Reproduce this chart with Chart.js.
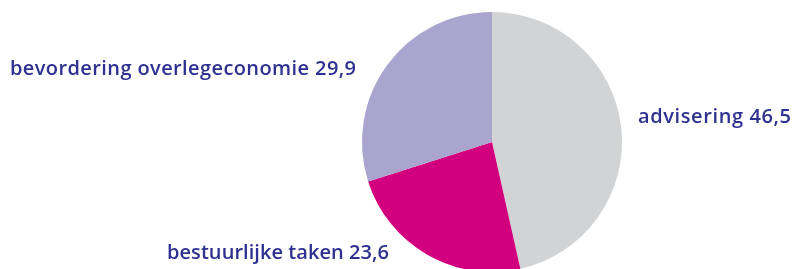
<!DOCTYPE html>
<html>
<head>
<meta charset="utf-8">
<script src="https://cdn.jsdelivr.net/npm/chart.js@4/dist/chart.umd.min.js"></script>
<style>
  html, body { margin: 0; padding: 0; background: #fff; }
  #wrap { width: 793px; height: 269px; }
</style>
</head>
<body>
<div id="wrap"><canvas id="pie" width="793" height="269"></canvas></div>
<script>
// data
var categories = ["advisering", "bestuurlijke taken", "bevordering overlegeconomie"];
var shares = [46.5, 23.6, 29.9];
var sliceColors = ['#d1d3d4', '#d2007f', '#aaa5cf'];

// label placement (text only, not the slices): left x, right x, baseline
var labelPos = [
    {x: 638, r: 791, y: 123},
    {x: 167, r: 389, y: 259},
    {x: 10, r: 356, y: 75}
];

function fmt(v) {
    return v.toFixed(1).replace('.', ',');
}

/* ======= labels next to the pie ======= */
var sideLabels = {
    id: 'sideLabels',
    afterDraw: function(chart) {
        var ctx = chart.ctx;
        ctx.save();
        ctx.fillStyle = '#2e3190';
        ctx.font = '600 20px "Open Sans"';
        ctx.textBaseline = 'alphabetic';
        ctx.textAlign = 'left';
        categories.forEach(function(c, i) {
            var txt = c + ' ' + fmt(shares[i]);
            ctx.letterSpacing = '0px';
            var w = ctx.measureText(txt).width;
            // stretch a bit so the label spans the same width as the original
            var ls = (labelPos[i].r - labelPos[i].x - w) / (txt.length - 1);
            ctx.letterSpacing = Math.max(0, ls).toFixed(2) + 'px';
            ctx.fillText(txt, labelPos[i].x, labelPos[i].y);
        });
        ctx.restore();
    }
};

var ctx = document.getElementById('pie');

var chart = new Chart(ctx, {
    type: 'pie',
    data: {
        labels: categories,
        datasets: [{
            data: shares,
            backgroundColor: sliceColors,
            borderWidth: 0,
            radius: 130
        }]
    },
    options: {
        responsive: false,
        animation: false,
        layout: { padding: { left: 362, right: 171, top: 15, bottom: 0 } },
        plugins: {
            legend: { display: false },
            tooltip: { enabled: false }
        }
    },
    plugins: [sideLabels]
});
</script>
</body>
</html>
